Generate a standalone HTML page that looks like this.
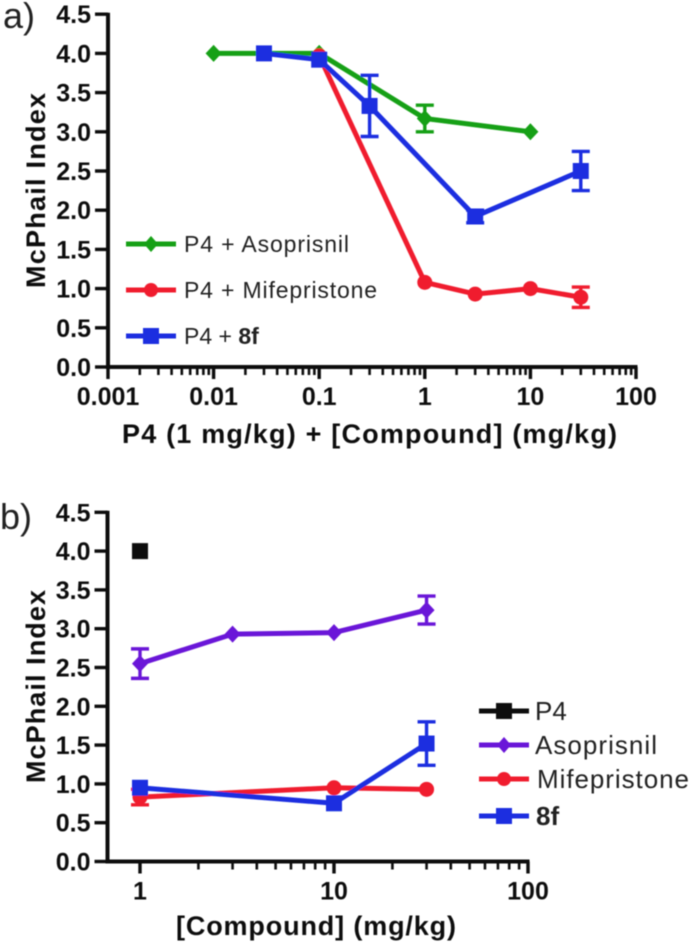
<!DOCTYPE html>
<html lang="en">
<head>
<meta charset="utf-8">
<title>McPhail Index charts</title>
<style>
html,body{margin:0;padding:0;background:#fff;}
svg{display:block;font-family:"Liberation Sans",Arial,sans-serif;}
.tick-label{font-weight:bold;font-size:25px;fill:#111;}
.axis-title{font-weight:bold;font-size:27px;fill:#111;}
.legend-text{font-size:23px;fill:#222;}
.legend-text-large{font-size:26px;fill:#222;}
.panel-label{font-size:36px;fill:#222;}
</style>
</head>
<body>
<svg id="chart" xmlns="http://www.w3.org/2000/svg" width="692" height="946" viewBox="0 0 692 946">
  <defs><filter id="soft" x="-5%" y="-5%" width="110%" height="110%"><feGaussianBlur stdDeviation="0.55"/></filter></defs>
  <g id="root" filter="url(#soft)">
    <text class="panel-label" x="3" y="28">a)</text>
    <text class="panel-label" x="0" y="529">b)</text>

    <text class="axis-title" transform="translate(45,288) rotate(-90)" textLength="195" lengthAdjust="spacing">McPhail Index</text>
    <text class="axis-title" x="122" y="443" textLength="495" lengthAdjust="spacing">P4 (1 mg/kg) + [Compound] (mg/kg)</text>
    <text class="axis-title" transform="translate(45,783) rotate(-90)" textLength="193" lengthAdjust="spacing">McPhail Index</text>
    <text class="axis-title" x="176" y="935" textLength="280" lengthAdjust="spacing">[Compound] (mg/kg)</text>

    <g>
      <line x1="126" y1="244" x2="176" y2="244" stroke="#12a012" stroke-width="5"/>
      <polygon points="151,236 158,244 151,252 144,244" fill="#12a012"/>
      <text class="legend-text" x="184" y="252" textLength="165" lengthAdjust="spacing">P4 + Asoprisnil</text>
      <line x1="126" y1="290" x2="176" y2="290" stroke="#f01c2e" stroke-width="5"/>
      <circle cx="151" cy="290" r="7" fill="#f01c2e"/>
      <text class="legend-text" x="184" y="298" textLength="193" lengthAdjust="spacing">P4 + Mifepristone</text>
      <line x1="126" y1="336" x2="176" y2="336" stroke="#1a2fe0" stroke-width="5"/>
      <rect x="143" y="328" width="16" height="16" fill="#1a2fe0"/>
      <text class="legend-text" x="184" y="344">P4 + <tspan font-weight="bold">8f</tspan></text>
    </g>

    <g>
      <line x1="479" y1="711" x2="529" y2="711" stroke="#111" stroke-width="5"/>
      <rect x="496" y="703" width="16" height="16" fill="#111"/>
      <text class="legend-text-large" x="535" y="720">P4</text>
      <line x1="479" y1="745" x2="529" y2="745" stroke="#6a14d8" stroke-width="5"/>
      <polygon points="504,737 511,745 504,753 497,745" fill="#6a14d8"/>
      <text class="legend-text-large" x="535" y="754" textLength="122" lengthAdjust="spacing">Asoprisnil</text>
      <line x1="479" y1="779" x2="529" y2="779" stroke="#f01c2e" stroke-width="5"/>
      <circle cx="504" cy="779" r="7" fill="#f01c2e"/>
      <text class="legend-text-large" x="537" y="788" textLength="152" lengthAdjust="spacing">Mifepristone</text>
      <line x1="479" y1="816" x2="529" y2="816" stroke="#1a2fe0" stroke-width="5"/>
      <rect x="496" y="808" width="16" height="16" fill="#1a2fe0"/>
      <text class="legend-text-large" x="536" y="825" font-weight="bold">8f</text>
    </g>
  </g>
</svg>
<script>
// Shared tick labels
const yTickValues = [0, 0.5, 1, 1.5, 2, 2.5, 3, 3.5, 4, 4.5];
const yTickLabels = ["0.0", "0.5", "1.0", "1.5", "2.0", "2.5", "3.0", "3.5", "4.0", "4.5"];

// Panel a
const aXTickValues = [0.001, 0.01, 0.1, 1, 10, 100];
const aXTickLabels = ["0.001", "0.01", "0.1", "1", "10", "100"];
const aAsoprisnilDoses = [0.01, 0.1, 1, 10];
const aAsoprisnilValues = [4.0, 4.0, 3.17, 3.0];
const aAsoprisnilErrors = [0, 0, 0.17, 0];
const aMifepristoneDoses = [0.1, 1, 3, 10, 30];
const aMifepristoneValues = [3.97, 1.08, 0.93, 1.0, 0.89];
const aMifepristoneErrors = [0, 0, 0, 0, 0.13];
const a8fDoses = [0.03, 0.1, 0.3, 3, 30];
const a8fValues = [4.0, 3.92, 3.33, 1.92, 2.5];
const a8fErrors = [0, 0, 0.39, 0.08, 0.25];

// Panel b
const bXTickValues = [1, 10, 100];
const bXTickLabels = ["1", "10", "100"];
const bP4Doses = [1];
const bP4Values = [4.0];
const bP4Errors = [0];
const bAsoprisnilDoses = [1, 3, 10, 30];
const bAsoprisnilValues = [2.55, 2.93, 2.95, 3.24];
const bAsoprisnilErrors = [0.19, 0, 0, 0.18];
const bMifepristoneDoses = [1, 10, 30];
const bMifepristoneValues = [0.83, 0.95, 0.93];
const bMifepristoneErrors = [0.1, 0, 0];
const b8fDoses = [1, 10, 30];
const b8fValues = [0.95, 0.75, 1.52];
const b8fErrors = [0, 0, 0.28];

const GREEN = "#12a012", RED = "#f01c2e", BLUE = "#1a2fe0", PURPLE = "#6a14d8", BLACK = "#111";
const root = document.getElementById("root");
const NS = "http://www.w3.org/2000/svg";

function node(tag, attrs, parent) {
  const el = document.createElementNS(NS, tag);
  for (const k in attrs) el.setAttribute(k, attrs[k]);
  parent.appendChild(el);
  return el;
}

function drawAxes(panel, xs, ys, xValues, xLabels) {
  const g = node("g", {}, root);
  
  
  const axisX = panel === "panel-a" ? 108 : 107.5;

  const yLine = node("line", {x1: axisX, x2: axisX, y1: ys(4.5) - 1.5, y2: ys(0) + 2, stroke: "#111", "stroke-width": 4}, g);
  
  

  const xLine = node("line", {x1: axisX, x2: xs(xValues[xValues.length - 1]) + 1.5, y1: ys(0), y2: ys(0), stroke: "#111", "stroke-width": 4}, g);
  
  

  yTickValues.forEach(function (v, i) {
    const t = node("line", {x1: axisX - 13, x2: axisX, y1: ys(v), y2: ys(v), stroke: "#111", "stroke-width": 3.4}, g);
    
    
    const l = node("text", {class: "tick-label", x: axisX - 17, y: ys(v) + 9, "text-anchor": "end"}, g);
    
    
    l.textContent = yTickLabels[i];
  });

  xValues.forEach(function (v, i) {
    const t = node("line", {x1: xs(v), x2: xs(v), y1: ys(0), y2: ys(0) + 12, stroke: "#111", "stroke-width": 3.4}, g);
    
    
    const l = node("text", {class: "tick-label", x: xs(v), y: ys(0) + 38, "text-anchor": "middle"}, g);
    
    
    l.textContent = xLabels[i];
    if (i < xValues.length - 1) {
      for (let m = 2; m < 10; m++) {
        const mt = node("line", {x1: xs(v * m), x2: xs(v * m), y1: ys(0), y2: ys(0) + 8, stroke: "#111", "stroke-width": 2.6}, g);
        
        
      }
    }
  });
}

function drawSeries(name, color, shape, doses, values, errors, xs, ys) {
  const g = node("g", {}, root);
  
  

  if (doses.length > 1) {
    const pts = doses.map(function (d, i) { return xs(d) + "," + ys(values[i]); }).join(" ");
    const line = node("polyline", {points: pts, fill: "none", stroke: color, "stroke-width": 5, "stroke-linejoin": "round"}, g);
    
    
  }

  doses.forEach(function (d, i) {
    const x = xs(d), y = ys(values[i]), e = errors[i];
    if (e > 0) {
      const hi = ys(values[i] + e), lo = ys(values[i] - e);
      const bar = node("path", {d: "M" + x + " " + hi + "V" + lo + "M" + (x - 9) + " " + hi + "H" + (x + 9) + "M" + (x - 9) + " " + lo + "H" + (x + 9), fill: "none", stroke: color, "stroke-width": 3.4}, g);
      
      
    }
    let mark;
    if (shape === "diamond") {
      mark = node("polygon", {points: x + "," + (y - 8.5) + " " + (x + 8) + "," + y + " " + x + "," + (y + 8.5) + " " + (x - 8) + "," + y, fill: color}, g);
    } else if (shape === "circle") {
      mark = node("circle", {cx: x, cy: y, r: 7.5, fill: color}, g);
    } else {
      mark = node("rect", {x: x - 8, y: y - 8, width: 16, height: 16, fill: color}, g);
    }
    
    
  });
}

function logScale(x0, decadePx, refValue) {
  return function (v) { return x0 + (Math.log10(v) - Math.log10(refValue)) * decadePx; };
}
function linScale(y0, unitPx) {
  return function (v) { return y0 - v * unitPx; };
}

const axA = logScale(108, 105.6, 0.001);
const ayA = linScale(367, 78.4);
drawAxes("panel-a", axA, ayA, aXTickValues, aXTickLabels);
drawSeries("a-asoprisnil", GREEN, "diamond", aAsoprisnilDoses, aAsoprisnilValues, aAsoprisnilErrors, axA, ayA);
drawSeries("a-mifepristone", RED, "circle", aMifepristoneDoses, aMifepristoneValues, aMifepristoneErrors, axA, ayA);
drawSeries("a-8f", BLUE, "square", a8fDoses, a8fValues, a8fErrors, axA, ayA);

const axB = logScale(140, 194, 1);
const ayB = linScale(861.5, 77.6);
drawAxes("panel-b", axB, ayB, bXTickValues, bXTickLabels);
drawSeries("b-p4", BLACK, "square", bP4Doses, bP4Values, bP4Errors, axB, ayB);
drawSeries("b-asoprisnil", PURPLE, "diamond", bAsoprisnilDoses, bAsoprisnilValues, bAsoprisnilErrors, axB, ayB);
drawSeries("b-mifepristone", RED, "circle", bMifepristoneDoses, bMifepristoneValues, bMifepristoneErrors, axB, ayB);
drawSeries("b-8f", BLUE, "square", b8fDoses, b8fValues, b8fErrors, axB, ayB);
</script>
</body>
</html>
